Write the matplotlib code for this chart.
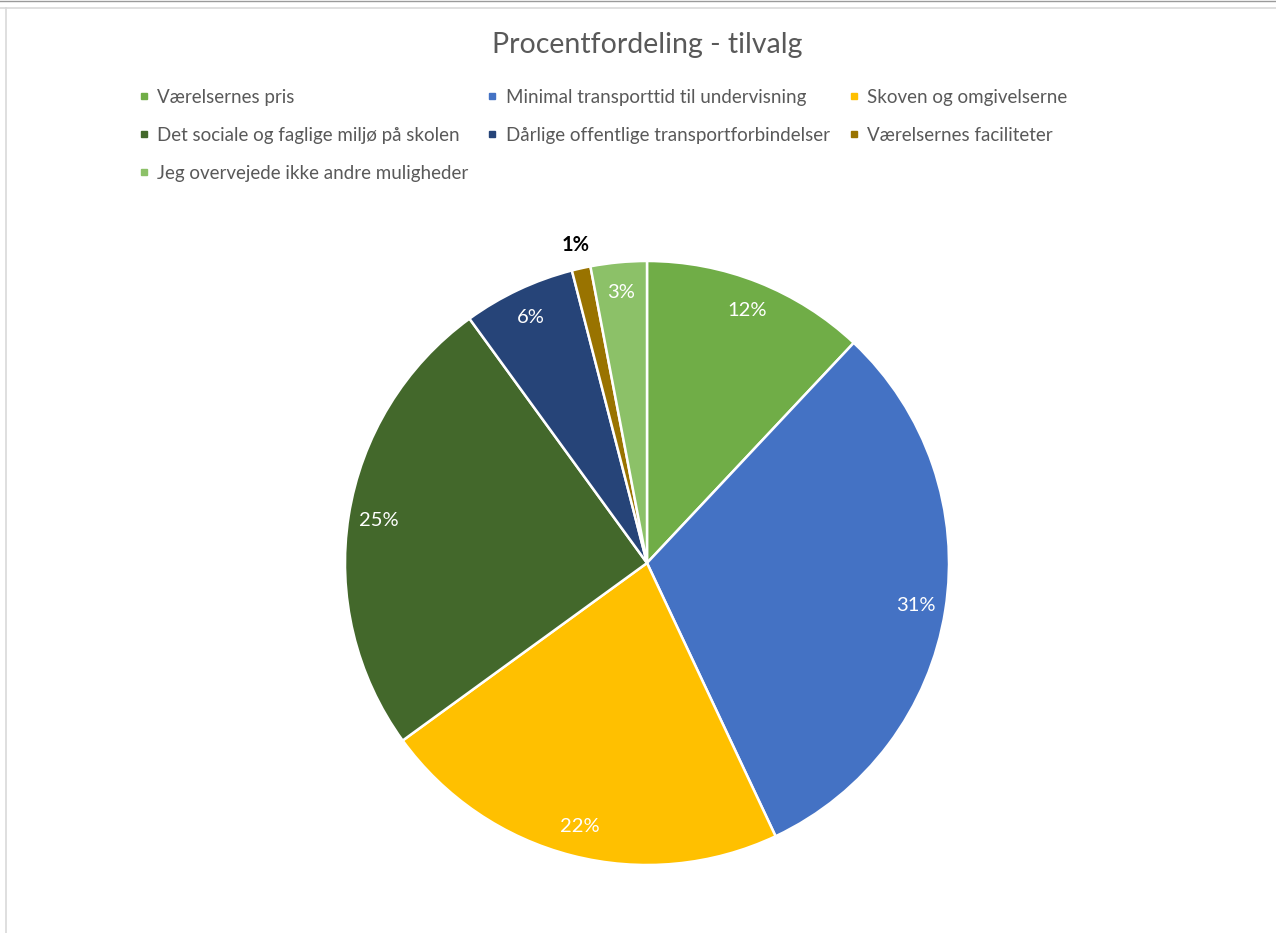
import matplotlib
matplotlib.use("Agg")
import matplotlib.pyplot as plt
from matplotlib.lines import Line2D

plt.rcParams['font.family'] = ['Lato', 'DejaVu Sans']

# Survey answers (share of respondents, %)
labels = ['Værelsernes pris',
          'Minimal transporttid til undervisning',
          'Skoven og omgivelserne',
          'Det sociale og faglige miljø på skolen',
          'Dårlige offentlige transportforbindelser',
          'Værelsernes faciliteter',
          'Jeg overvejede ikke andre muligheder']
values = [12, 31, 22, 25, 6, 1, 3]
colors = ['#70AD47', '#4472C4', '#FFC000', '#43682B',
          '#264478', '#997300', '#8CC168']

W, H = 1276, 933
fig = plt.figure(figsize=(W / 100, H / 100), dpi=100)

# pie axes: centre (647, 563) px, radius 302 px
cx, cy, r = 647, 563, 302
ax = fig.add_axes([(cx - r) / W, (H - cy - r) / H, 2 * r / W, 2 * r / H])
wedges, texts, autotexts = ax.pie(
    values, colors=colors, startangle=90, counterclock=False,
    autopct='%1.0f%%', pctdistance=0.9, radius=1,
    wedgeprops=dict(edgecolor='white', linewidth=1.8),
    textprops=dict(color='white', fontsize=14.5))
ax.set_xlim(-1, 1)
ax.set_ylim(-1, 1)
ax.set_aspect('equal')

# the 1% slice is too thin for an inside label
small = values.index(1)
autotexts[small].set_color('black')
autotexts[small].set_fontweight('bold')
x, y = autotexts[small].get_position()
autotexts[small].set_position((x * 1.08 / 0.9, y * 1.08 / 0.9))

fig.text(cx / W, 1 - 45 / H, 'Procentfordeling - tilvalg',
         ha='center', va='center', fontsize=20.5, color='#595959')

# legend filled row by row (3 columns)
order = [0, 3, 6, 1, 4, 2, 5]
handles = [Line2D([], [], marker='s', linestyle='none', markersize=5,
                  color=colors[i]) for i in order]
fig.legend(handles, [labels[i] for i in order], ncol=3,
           loc='upper left', bbox_to_anchor=(138 / W, 1 - 89 / H),
           frameon=False, fontsize=13.5, labelcolor='#595959',
           handlelength=0.6, handletextpad=0.4, columnspacing=1.0,
           labelspacing=1.12, borderpad=0, borderaxespad=0)

# chart frame
fig.add_artist(Line2D([0, 1], [1 - 8 / H, 1 - 8 / H], color='#d9d9d9', lw=1.2))
fig.add_artist(Line2D([6 / W, 6 / W], [0, 1 - 8 / H], color='#d9d9d9', lw=1.2))
fig.add_artist(Line2D([0, 1], [1 - 0.5 / H, 1 - 0.5 / H], color='#9a9a9a', lw=1))

fig.savefig('out.png', dpi=100, facecolor='white')
